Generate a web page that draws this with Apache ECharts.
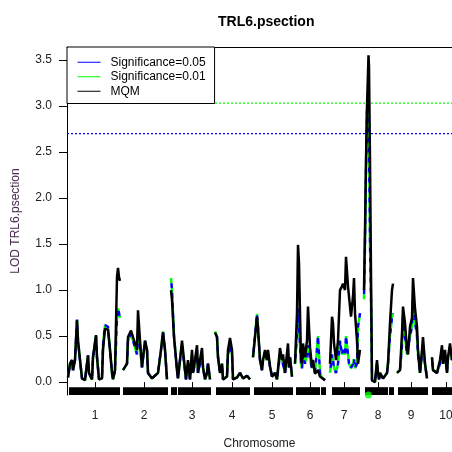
<!DOCTYPE html>
<html>
<head>
<meta charset="utf-8">
<script src="https://cdn.jsdelivr.net/npm/echarts@6/dist/echarts.min.js"></script>
<style>
  html, body { margin: 0; padding: 0; background: #fff; }
  #eChart { width: 452px; height: 452px; }
</style>
</head>
<body>
<div id="eChart"></div>
<script>
// chromosome labels and tick positions (cumulative cM along the genome)
var chromNames = ['1', '2', '3', '4', '5', '6', '7', '8', '9', '10'];
var chromMid = [28, 77, 125, 165, 205, 243, 277, 311, 344, 379];
// marker rug bars under the curve
var rugStart = [2, 56, 104, 111, 149, 187, 229, 254, 265, 298, 322, 331, 365];
var rugEnd = [53, 101, 110, 144, 183, 226, 253, 259, 293, 321, 327, 361, 390];
var yTicks = [0, 0.5, 1, 1.5, 2, 2.5, 3, 3.5];

// genome position, null lod = break between chromosomes
var pos = [
  1, 3, 5, 6, 8, 10, 11, 13, 15, 18, 21, 22, 25, 26, 29, 30, 32, 35, 36, 38, 41, 43, 45, 46, 48, 50, 51, 52, 53, 54.5,
  56, 60, 61, 64, 66, 70, 71, 72, 73, 75, 78, 80, 81, 85, 88, 91, 94, 96, 98, 100, 102.5,
  104, 105, 107, 110, 111, 113, 115, 117, 119, 121, 123, 125, 126, 128, 130, 131, 133, 135, 136, 138, 140, 141, 143, 146,
  148, 150, 151, 153, 155, 156, 160, 161, 163, 165, 166, 170, 173, 176, 180, 183, 185,
  186, 188, 190, 191, 193, 195, 196, 198, 200, 201, 203, 205, 208, 210, 213, 215, 216, 218, 221, 222, 223, 225, 227,
  228, 230, 231, 232, 233, 234, 235, 236, 238, 240, 241, 243, 245, 246, 248, 251, 253, 255, 258, 261,
  263, 265, 266, 267, 269, 271, 273, 275, 276, 278, 279, 281, 282, 284, 286, 287, 288, 290, 291, 293, 295,
  297, 298, 299, 300, 301, 301.5, 302, 303, 304, 305, 306, 308, 310, 311, 312, 313, 316, 320, 321, 323, 325, 326, 328.5,
  330, 333, 335, 336, 338, 340, 341, 343, 345, 346, 348, 350, 351, 353, 355, 356, 358, 360, 362.5,
  365, 366, 370, 373, 375, 376, 378, 380, 381, 383, 385, 387
];
var lodMQM = [
  0.05, 0.2, 0.24, 0.13, 0.24, 0.67, 0.45, 0.24, 0.04, 0.02, 0.29, 0.1, 0.03, 0.27, 0.51, 0.27, 0.03, 0.04, 0.35, 0.58, 0.57, 0.35, 0.1, 0.03, 0.13, 1.14, 1.24, 1.14, 1.1, null,
  0.13, 0.2, 0.49, 0.56, 0.49, 0.35, 0.78, 0.76, 0.45, 0.16, 0.45, 0.35, 0.1, 0.04, 0.07, 0.1, 0.35, 0.54, 0.35, 0.03, null,
  1.0, 0.89, 0.49, 0.13, 0.04, 0.24, 0.45, 0.45, 0.03, 0.24, 0.03, 0.35, 0.1, 0.24, 0.4, 0.1, 0.24, 0.37, 0.16, 0.03, 0.1, 0.2, 0.03, null,
  0.54, 0.49, 0.27, 0.1, 0.2, 0.03, 0.06, 0.35, 0.48, 0.35, 0.03, 0.05, 0.1, 0.04, 0.07, 0.03, null,
  0.27, 0.49, 0.71, 0.58, 0.24, 0.13, 0.24, 0.35, 0.24, 0.35, 0.17, 0.06, 0.1, 0.03, 0.37, 0.24, 0.3, 0.1, 0.42, 0.16, 0.27, 0.06, null,
  0.2, 0.75, 1.49, 1.29, 0.75, 0.27, 0.2, 0.42, 0.27, 0.45, 0.82, 0.38, 0.16, 0.24, 0.09, 0.13, 0.06, 0.06, 0.02, null,
  0.2, 0.71, 0.64, 0.42, 0.24, 0.45, 1.0, 1.04, 1.07, 1.0, 1.36, 1.04, 0.93, 0.71, 0.93, 1.13, 0.75, 0.45, 0.2, 0.35, null,
  1.0, 1.65, 2.41, 3.0, 3.36, 3.55, 3.43, 2.41, 1.18, 0.02, 0.02, 0.0, 0.24, 0.1, 0.03, 0.1, 0.04, 0.1, 0.2, 0.64, 1.0, 1.07, null,
  0.1, 0.13, 0.53, 0.82, 0.64, 0.35, 0.3, 0.6, 0.7, 1.13, 0.8, 0.6, 0.35, 0.1, 0.35, 0.49, 0.2, 0.04, null,
  0.27, 0.13, 0.1, 0.24, 0.4, 0.2, 0.35, 0.1, 0.27, 0.42, 0.24, 0.3
];
var lodSig = [
  0.05, 0.2, 0.24, 0.13, 0.24, 0.68, 0.45, 0.24, 0.04, 0.02, 0.29, 0.1, 0.03, 0.27, 0.5, 0.27, 0.03, 0.04, 0.4, 0.62, 0.6, 0.35, 0.1, 0.03, 0.13, 0.7, 0.8, 0.75, 0.7, null,
  0.13, 0.2, 0.45, 0.52, 0.45, 0.3, 0.55, 0.5, 0.4, 0.16, 0.45, 0.35, 0.1, 0.04, 0.07, 0.1, 0.35, 0.55, 0.35, 0.03, null,
  1.13, 1.0, 0.5, 0.13, 0.04, 0.24, 0.4, 0.4, 0.03, 0.2, 0.03, 0.3, 0.1, 0.2, 0.35, 0.1, 0.2, 0.3, 0.16, 0.03, 0.1, 0.2, 0.03, null,
  0.55, 0.49, 0.27, 0.1, 0.2, 0.03, 0.06, 0.3, 0.4, 0.3, 0.03, 0.05, 0.1, 0.04, 0.07, 0.03, null,
  0.27, 0.5, 0.74, 0.6, 0.24, 0.13, 0.24, 0.3, 0.24, 0.3, 0.17, 0.06, 0.1, 0.03, 0.3, 0.24, 0.25, 0.1, 0.35, 0.16, 0.27, 0.06, null,
  0.2, 0.5, 0.8, 0.6, 0.4, 0.2, 0.15, 0.3, 0.2, 0.3, 0.4, 0.25, 0.15, 0.2, 0.1, 0.5, 0.1, 0.05, 0.02, null,
  0.1, 0.3, 0.25, 0.15, 0.1, 0.2, 0.45, 0.3, 0.35, 0.3, 0.5, 0.3, 0.2, 0.15, 0.2, 0.25, 0.15, 0.2, 0.6, 0.75, null,
  0.9, 1.5, 2.3, 2.95, 3.0, 3.0, 2.6, 1.5, 0.9, 0.02, 0.02, 0.0, 0.2, 0.1, 0.03, 0.1, 0.04, 0.1, 0.2, 0.5, 0.7, 0.75, null,
  0.1, 0.13, 0.4, 0.7, 0.5, 0.3, 0.3, 0.5, 0.6, 0.9, 0.65, 0.5, 0.3, 0.1, 0.3, 0.4, 0.2, 0.04, null,
  0.27, 0.13, 0.1, 0.2, 0.35, 0.2, 0.3, 0.1, 0.27, 0.35, 0.24, 0.3
];
var thr05 = 2.70;
var thr01 = 3.03;
var qtlPos = 301.3;

function toData(lod) {
  return pos.map(function (x, i) { return [x, lod[i] == null ? '-' : lod[i]]; });
}

var rugAreas = rugStart.map(function (s, i) {
  return [{ coord: [s, -0.055] }, { coord: [rugEnd[i], -0.14] }];
});

// dotted threshold line drawn as its own two-point series
function thresholdSeries(value, color, z) {
  return {
    type: 'line',
    data: [[0, value], [385, value]],
    symbol: 'none',
    silent: true,
    z: z,
    lineStyle: { color: color, width: 1.3, type: [2, 2] }
  };
}

var chart = echarts.init(document.getElementById('eChart'));
var option = {
  animation: false,
  title: {
    text: 'TRL6.psection',
    left: 213,
    top: 10,
    textStyle: { fontFamily: 'Liberation Sans', fontSize: 14, fontWeight: 'bold', color: '#000' }
  },
  legend: {
    data: ['Significance=0.05', 'Significance=0.01', 'MQM'],
    orient: 'vertical',
    left: 67,
    top: 47,
    padding: [8, 9, 5, 10],
    itemGap: 0,
    itemWidth: 23,
    itemHeight: 14,
    backgroundColor: '#fff',
    borderColor: '#000',
    borderWidth: 1,
    borderRadius: 0,
    itemStyle: { opacity: 0 },
    lineStyle: { type: 'solid', width: 1 },
    textStyle: { fontFamily: 'Liberation Sans', fontSize: 12, color: '#000', lineHeight: 14.5, padding: [0, 0, 0, 5] }
  },
  grid: { left: 67, right: 0, top: 47, bottom: 57, outerBoundsMode: 'none' },
  xAxis: [{
    type: 'value',
    min: 0,
    max: 385,
    name: 'Chromosome',
    nameLocation: 'middle',
    nameGap: 43,
    nameTextStyle: { fontFamily: 'Liberation Sans', fontSize: 12, color: '#222' },
    axisLine: { show: false },
    splitLine: { show: false },
    axisTick: { show: true, length: 6, customValues: chromMid, lineStyle: { color: '#000' } },
    axisLabel: {
      customValues: chromMid,
      margin: 15,
      fontFamily: 'Liberation Sans',
      fontSize: 12,
      color: '#222',
      formatter: function (v) {
        var i = chromMid.indexOf(v);
        return i >= 0 ? chromNames[i] : '';
      }
    }
  }, {
    type: 'value',
    position: 'top',
    min: 0,
    max: 385,
    axisLine: { show: true, onZero: false, lineStyle: { color: '#000', width: 1 } },
    axisTick: { show: false },
    axisLabel: { show: false },
    splitLine: { show: false }
  }],
  yAxis: {
    type: 'value',
    min: -0.14,
    max: 3.64,
    name: 'LOD TRL6.psection',
    nameLocation: 'middle',
    nameGap: 45,
    nameTextStyle: { fontFamily: 'Liberation Sans', fontSize: 12, color: '#4a2850' },
    axisLine: { show: true, onZero: false, lineStyle: { color: '#000', width: 1 } },
    axisTick: { show: true, length: 8, customValues: yTicks, lineStyle: { color: '#000' } },
    splitLine: { show: false },
    axisLabel: {
      customValues: yTicks,
      margin: 15,
      fontFamily: 'Liberation Sans',
      fontSize: 12,
      color: '#222',
      formatter: function (v) { return v.toFixed(1); }
    }
  },
  series: [
    thresholdSeries(thr05, '#0000ff', 1),
    thresholdSeries(thr01, '#00ff00', 1),
    {
      name: 'Significance=0.01',
      type: 'line',
      data: toData(lodSig),
      symbol: 'none',
      connectNulls: false,
      color: '#00ff00',
      lineStyle: { color: '#00ff00', width: 2.5, type: [5, 5] }
    },
    {
      name: 'Significance=0.05',
      type: 'line',
      data: toData(lodSig),
      symbol: 'none',
      connectNulls: false,
      color: '#0000ff',
      lineStyle: { color: '#0000ff', width: 2.5, type: [5, 5], dashOffset: 5 }
    },
    {
      name: 'MQM',
      type: 'line',
      data: toData(lodMQM),
      symbol: 'none',
      connectNulls: false,
      color: '#000',
      lineStyle: { color: '#000', width: 2.5 },
      markArea: {
        silent: true,
        itemStyle: { color: '#000', opacity: 1 },
        data: rugAreas
      }
    },
    {
      type: 'scatter',
      data: [[qtlPos, -0.14]],
      symbolSize: 7,
      itemStyle: { color: '#00ff00' },
      clip: false,
      z: 5
    }
  ]
};
chart.setOption(option);
</script>
</body>
</html>
